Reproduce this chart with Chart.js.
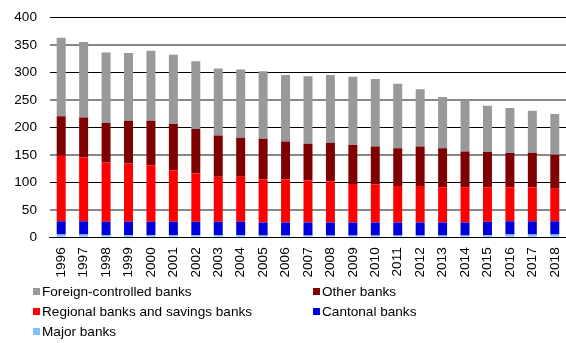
<!DOCTYPE html>
<html>
<head>
<meta charset="utf-8">
<script src="https://cdn.jsdelivr.net/npm/chart.js@4/dist/chart.umd.min.js"></script>
<style>
  html, body { margin: 0; padding: 0; background: #fff; }
  #wrap { position: relative; width: 566px; height: 343px; }
  #legend { position: absolute; left: 0; top: 0; width: 566px; height: 343px; pointer-events: none;
            font-family: "Liberation Sans", Arial, sans-serif; font-size: 13.6px; color: #000; }
  .item { position: absolute; display: flex; align-items: center; white-space: nowrap; }
  .box { width: 7px; height: 7px; margin-right: 2px; }
</style>
</head>
<body>
<div id="wrap">
  <canvas id="c" width="566" height="343"></canvas>
  <div id="legend"></div>
</div>
<script>
// Number of banks in Switzerland by bank group, 1996–2018
const years = ['1996','1997','1998','1999','2000','2001','2002','2003','2004','2005','2006','2007',
               '2008','2009','2010','2011','2012','2013','2014','2015','2016','2017','2018'];
const majorBanks    = [5,5,4,4,4,4,4,4,4,3,3,3,3,3,3,3,3,3,3,4,5,5,5];
const cantonalBanks = [24,24,24,24,24,24,24,24,24,24,24,24,24,24,24,24,24,24,24,24,24,24,24];
const regionalBanks = [119,116,108,106,103,94,88,82,82,78,78,76,75,70,69,66,66,64,64,63,62,62,59];
const otherBanks    = [72,73,72,78,81,84,81,75,71,74,69,67,70,71,69,69,72,71,65,64,62,62,62];
const foreignBanks  = [143,137,128,123,127,126,123,122,124,123,121,123,123,124,123,117,104,93,93,84,82,77,74];
const yTicks = [0,50,100,150,200,250,300,350,400];

const FONT = '"Liberation Sans", Arial, sans-serif';
const FONT_SIZE = 13.6;

// stacked bottom to top
const series = [
  { label: 'Major banks', data: majorBanks, color: '#80c0ff' },
  { label: 'Cantonal banks', data: cantonalBanks, color: '#0000dd' },
  { label: 'Regional banks and savings banks', data: regionalBanks, color: '#ff0000' },
  { label: 'Other banks', data: otherBanks, color: '#800000' },
  { label: 'Foreign-controlled banks', data: foreignBanks, color: '#999999' }
];

// scales keep no extra edge padding; the layout padding alone places the plot
const noEdgePadding = scale => {
  scale.paddingLeft = 0; scale.paddingRight = 0;
  scale.paddingTop = 0; scale.paddingBottom = 0;
};

new Chart(document.getElementById('c'), {
  type: 'bar',
  data: {
    labels: years,
    datasets: series.map(s => ({
      label: s.label, data: s.data, backgroundColor: s.color, borderWidth: 0,
      barPercentage: 0.8, categoryPercentage: 0.5
    }))
  },
  options: {
    responsive: false,
    animation: false,
    devicePixelRatio: 1,
    layout: { padding: { left: 1.3, right: 0, top: 17.3, bottom: 55.5 } },
    plugins: { legend: { display: false }, tooltip: { enabled: false } },
    scales: {
      x: {
        stacked: true,
        afterFit: noEdgePadding,
        grid: { display: false, drawTicks: false },
        border: { display: true, color: '#000', width: 1 },
        ticks: { minRotation: 90, maxRotation: 90, padding: 10, color: '#000', font: { family: FONT, size: FONT_SIZE } }
      },
      y: {
        stacked: true,
        min: 0, max: 400,
        afterFit: noEdgePadding,
        afterBuildTicks: axis => { axis.ticks = yTicks.map(v => ({ value: v })); },
        grid: {
          drawTicks: false,
          color: ctx => (ctx.tick && ctx.tick.value % 100 === 0) ? '#000' : '#888',
          lineWidth: ctx => (ctx.tick && ctx.tick.value % 100 === 0) ? 1 : 2
        },
        border: { display: false },
        ticks: { padding: 13, color: '#000', font: { family: FONT, size: FONT_SIZE } }
      }
    }
  }
});

// Two-column legend below the axis
const legendOrder = [
  { s: series[4], x: 33, y: 291 }, { s: series[3], x: 313, y: 291 },
  { s: series[2], x: 33, y: 311 }, { s: series[1], x: 313, y: 311 },
  { s: series[0], x: 33, y: 331 }
];
const legend = document.getElementById('legend');
legendOrder.forEach(({ s, x, y }) => {
  const item = document.createElement('div');
  item.className = 'item';
  item.style.left = x + 'px';
  item.style.top = (y - 8) + 'px';
  item.style.height = '16px';
  const box = document.createElement('span');
  box.className = 'box';
  box.style.background = s.color;
  const txt = document.createElement('span');
  txt.textContent = s.label;
  item.appendChild(box);
  item.appendChild(txt);
  legend.appendChild(item);
});
</script>
</body>
</html>
